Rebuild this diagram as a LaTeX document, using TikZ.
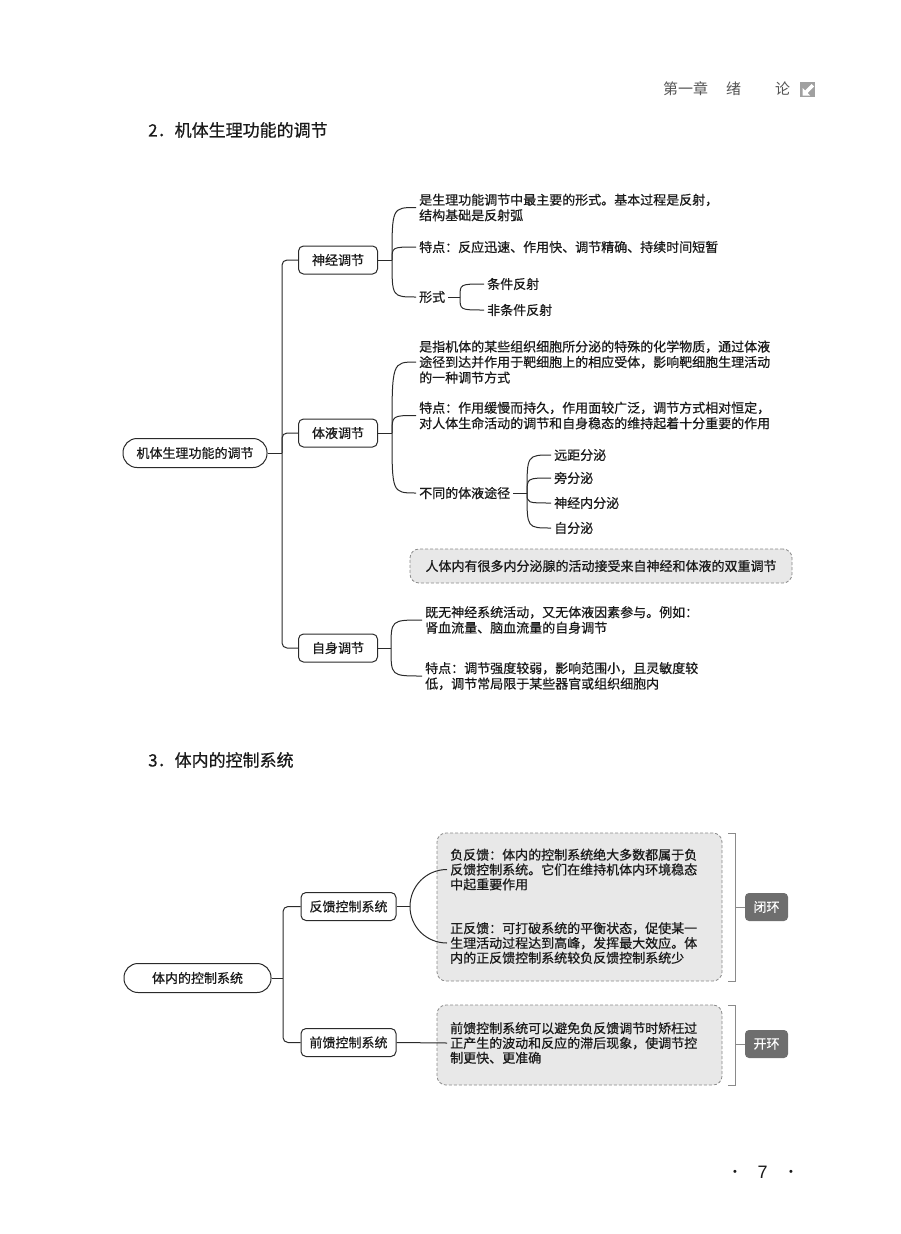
\documentclass[tikz,border=0pt]{standalone}
\usepackage{fontspec}
\setmainfont{Noto Sans CJK SC}[FakeBold=0.6]
\newfontfamily\hdrfont{Noto Sans CJK SC}
\newfontfamily\numfont{Liberation Sans}
\usetikzlibrary{calc}
\definecolor{ink}{HTML}{1A1A1A}
\definecolor{lnk}{HTML}{2A2A2A}
\definecolor{pale}{HTML}{E8E8E8}
\definecolor{dashc}{HTML}{8A8A8A}
\definecolor{tagc}{HTML}{6E6E6E}
\definecolor{hdr}{HTML}{555555}
\definecolor{iconc}{HTML}{A0A0A0}
\begin{document}
\begin{tikzpicture}[x=1pt,y=-1pt,
  every node/.style={text=ink},
  bodyf/.style={font=\fontsize{13}{15.5}\selectfont},
  rootbox/.style={draw=lnk, line width=1pt, rounded corners=14pt, minimum height=29pt, inner sep=0pt, bodyf, fill=white},
  branchbox/.style={draw=lnk, line width=1pt, rounded corners=5pt, minimum height=28pt, inner sep=0pt, bodyf, fill=white},
  item/.style={anchor=west, align=left, inner xsep=3pt, inner ysep=1pt, bodyf},
  boxitem/.style={anchor=west, align=left, inner xsep=3pt, inner ysep=1pt, font=\fontsize{13}{14.8}\selectfont},
  conn/.style={draw=lnk, line width=1pt},
  dashbox/.style={draw=dashc, dash pattern=on 3pt off 2pt, fill=pale, rounded corners=9pt, line width=0.8pt, inner sep=0pt},
  tagbox/.style={fill=tagc, rounded corners=4pt, text=white, minimum width=43pt, minimum height=28pt, inner sep=0pt, bodyf},
  brk/.style={draw=dashc, line width=0.8pt},
  titlef/.style={anchor=west, inner sep=0pt, font=\fontsize{17}{20}\selectfont}
]
\useasboundingbox (0,0) rectangle (900,1234);

% header
\node[anchor=west, inner sep=0pt, text=hdr, font=\hdrfont\fontsize{15}{15}\selectfont] (hd) at (663,89) {第一章\hspace{18pt}绪\hspace{34pt}论};
\fill[iconc] (800,82) rectangle (815,97);
\fill[white] (802.5,95.5) -- (802.5,88) -- (805,90.5) -- (811.5,84) -- (814,86.5) -- (807.5,93) -- (810,95.5) -- cycle;

% ---------- section 2 ----------
\node[titlef] (t1) at (148,130) {2．机体生理功能的调节};

\node[rootbox, minimum width=144pt] (r1) at (195,453) {机体生理功能的调节};
\node[branchbox, minimum width=79pt] (n1) at (338,260) {神经调节};
\node[branchbox, minimum width=79pt] (n2) at (338,433) {体液调节};
\node[branchbox, minimum width=79pt] (n3) at (338,648) {自身调节};

\coordinate (tr1) at (282,453);
\draw[conn, rounded corners=5pt] (n1.west) -| (tr1) |- (n3.west);
\draw[conn, rounded corners=5pt] (tr1) |- (n2.west);
\draw[conn] (r1.east) -- (tr1);

% 神经调节
\coordinate (j1) at (392,260);
\draw[conn] (n1.east) -- (j1);
\node[item] (a1) at (416,207.5) {是生理功能调节中最主要的形式。基本过程是反射，\\结构基础是反射弧};
\node[item] (a2) at (416,247) {特点：反应迅速、作用快、调节精确、持续时间短暂};
\node[item] (a3) at (416,297) {形式};
\draw[conn] (j1) .. controls (j1 |- a1.west) .. (a1.west);
\draw[conn] (j1) .. controls (j1 |- a2.west) .. (a2.west);
\draw[conn] (j1) .. controls (j1 |- a3.west) .. (a3.west);
\coordinate (j1b) at (460,297);
\draw[conn] (a3.east) -- (j1b);
\node[item] (b1) at (484,284) {条件反射};
\node[item] (b2) at (484,310) {非条件反射};
\draw[conn] (j1b) .. controls (j1b |- b1.west) .. (b1.west);
\draw[conn] (j1b) .. controls (j1b |- b2.west) .. (b2.west);

% 体液调节
\coordinate (j2) at (392,433);
\draw[conn] (n2.east) -- (j2);
\node[item] (c1) at (416,362) {是指机体的某些组织细胞所分泌的特殊的化学物质，通过体液\\途径到达并作用于靶细胞上的相应受体，影响靶细胞生理活动\\的一种调节方式};
\node[item] (c2) at (416,415.5) {特点：作用缓慢而持久，作用面较广泛，调节方式相对恒定，\\对人体生命活动的调节和自身稳态的维持起着十分重要的作用};
\node[item] (c3) at (416,493) {不同的体液途径};
\draw[conn] (j2) .. controls (j2 |- c1.west) .. (c1.west);
\draw[conn] (j2) .. controls (j2 |- c2.west) .. (c2.west);
\draw[conn] (j2) .. controls (j2 |- c3.west) .. (c3.west);
\coordinate (j2b) at (527,493);
\draw[conn] (c3.east) -- (j2b);
\node[item] (d1) at (551,455) {远距分泌};
\node[item] (d2) at (551,478) {旁分泌};
\node[item] (d3) at (551,503) {神经内分泌};
\node[item] (d4) at (551,528) {自分泌};
\draw[conn] (j2b) .. controls (j2b |- d1.west) .. (d1.west);
\draw[conn] (j2b) .. controls (j2b |- d2.west) .. (d2.west);
\draw[conn] (j2b) .. controls (j2b |- d3.west) .. (d3.west);
\draw[conn] (j2b) .. controls (j2b |- d4.west) .. (d4.west);

\node[dashbox, bodyf, minimum width=382pt, minimum height=34pt] (e) at (601,566) {人体内有很多内分泌腺的活动接受来自神经和体液的双重调节};

% 自身调节
\coordinate (j3) at (391,648);
\draw[conn] (n3.east) -- (j3);
\node[item] (f1) at (422,620) {既无神经系统活动，又无体液因素参与。例如：\\肾血流量、脑血流量的自身调节};
\node[item] (f2) at (422,676) {特点：调节强度较弱，影响范围小，且灵敏度较\\低，调节常局限于某些器官或组织细胞内};
\draw[conn] (j3) .. controls (j3 |- f1.west) .. (f1.west);
\draw[conn] (j3) .. controls (j3 |- f2.west) .. (f2.west);

% ---------- section 3 ----------
\node[titlef] (t2) at (148,760) {3．体内的控制系统};

\node[rootbox, minimum width=147pt] (r2) at (197.5,978) {体内的控制系统};
\node[branchbox, minimum width=95pt] (g1) at (348.5,906.5) {反馈控制系统};
\node[branchbox, minimum width=95pt] (g2) at (348.5,1042.5) {前馈控制系统};
\coordinate (tr2) at (283,978);
\draw[conn, rounded corners=5pt] (g1.west) -| (tr2) |- (g2.west);
\draw[conn] (r2.east) -- (tr2);

\node[dashbox, minimum width=285pt, minimum height=148pt] (h1) at (579.5,907) {};
\node[dashbox, minimum width=285pt, minimum height=80pt] (h2) at (579.5,1045) {};
\node[boxitem] (h1a) at (447,869.5) {负反馈：体内的控制系统绝大多数都属于负\\反馈控制系统。它们在维持机体内环境稳态\\中起重要作用};
\node[boxitem] (h1b) at (447,943) {正反馈：可打破系统的平衡状态，促使某一\\生理活动过程达到高峰，发挥最大效应。体\\内的正反馈控制系统较负反馈控制系统少};
\node[boxitem] (h2a) at (447,1043) {前馈控制系统可以避免负反馈调节时矫枉过\\正产生的波动和反应的滞后现象，使调节控\\制更快、更准确};

\coordinate (j4) at (410,906.5);
\draw[conn] (g1.east) -- (j4);
\draw[conn] (j4) .. controls +(0,-20.5) and +(-20.5,0) .. (h1a.west);
\draw[conn] (j4) .. controls +(0,20.5) and +(-20.5,0) .. (h1b.west);
\draw[conn] (g2.east) -- (h2a.west);

% brackets and tags
\node[tagbox] (k1) at (766.5,907) {闭环};
\node[tagbox] (k2) at (766.5,1044) {开环};
\coordinate (bk1a) at (728,833);
\coordinate (bk1b) at (728,981);
\coordinate (bk1m) at (735,907);
\draw[brk] (bk1a) -- ++(7,0) -- ($(bk1b)+(7,0)$) -- (bk1b);
\draw[brk] (bk1m) -- (k1.west);
\coordinate (bk2a) at (728,1005);
\coordinate (bk2b) at (728,1085);
\coordinate (bk2m) at (735,1044);
\draw[brk] (bk2a) -- ++(7,0) -- ($(bk2b)+(7,0)$) -- (bk2b);
\draw[brk] (bk2m) -- (k2.west);

% page number
\node[inner sep=0pt, font=\numfont\fontsize{11}{11}\selectfont] (pd1) at (735,1173) {•};
\node[inner sep=0pt, font=\numfont\fontsize{18}{18}\selectfont] (pn) at (762.5,1172.5) {7};
\node[inner sep=0pt, font=\numfont\fontsize{11}{11}\selectfont] (pd2) at (791,1173) {•};
\end{tikzpicture}
\end{document}
